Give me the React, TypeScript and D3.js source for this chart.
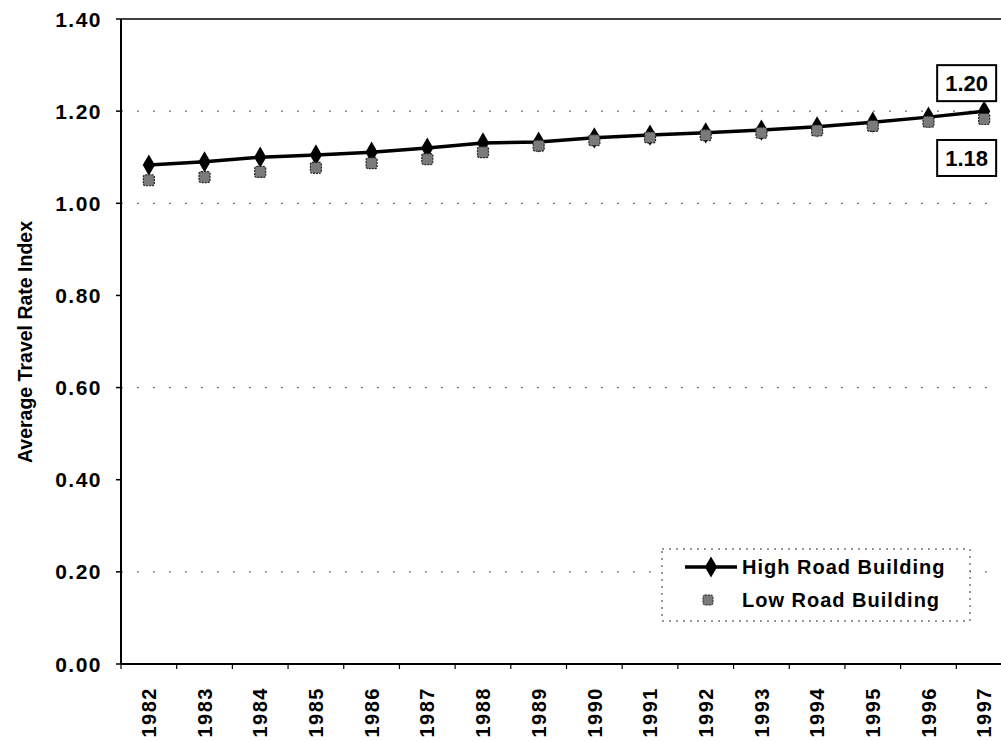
import React from "react";
import * as d3 from "d3";

const years = ["1982","1983","1984","1985","1986","1987","1988","1989","1990","1991","1992","1993","1994","1995","1996","1997"];
const highRoad = [1.083, 1.09, 1.10, 1.105, 1.111, 1.12, 1.131, 1.133, 1.142, 1.148, 1.153, 1.159, 1.166, 1.176, 1.187, 1.20];
const lowRoad = [1.05, 1.057, 1.068, 1.077, 1.087, 1.096, 1.111, 1.125, 1.137, 1.143, 1.148, 1.153, 1.158, 1.168, 1.177, 1.183];
const yTicks = [0, 0.2, 0.4, 0.6, 0.8, 1.0, 1.2, 1.4];
const gridValues = [0.2, 0.6, 1.0, 1.2];
const seriesNames = ["High Road Building", "Low Road Building"];
const endLabels = ["1.20", "1.18"];

const W = 1001, H = 741;
const M = { left: 121, top: 19, right: 1012, bottom: 664 };
const FONT = "'Liberation Sans', Arial, sans-serif";

export default function App() {
  const x = d3.scaleBand<string>().domain(years).range([M.left, M.right]);
  const y = d3.scaleLinear().domain([0, 1.4]).range([M.bottom, M.top]);
  const cx = (i: number) => (x(years[i]) as number) + x.bandwidth() / 2;

  const line = d3.line<number>().x((_, i) => cx(i)).y((d) => y(d));
  const diamond = d3.symbol().type(d3.symbolDiamond).size(130)();
  const last = years.length - 1;

  return (
    <svg width={W} height={H} style={{ position: "absolute", left: 0, top: 0, background: "#fff" }}>
      <rect x={0} y={0} width={W} height={H} fill="#fff" />
      {/* faint gridlines */}
      {gridValues.map((g) => (
        <line key={g} x1={M.left} x2={M.right} y1={y(g)} y2={y(g)} stroke="#777" strokeWidth={1.2} strokeDasharray="2 14" />
      ))}
      {/* frame */}
      <line x1={M.left} x2={M.right} y1={M.top} y2={M.top} stroke="#000" strokeWidth={1.5} />
      <line x1={M.left} x2={M.left} y1={M.top} y2={M.bottom} stroke="#000" strokeWidth={2} />
      <line x1={M.left} x2={M.right} y1={M.bottom} y2={M.bottom} stroke="#000" strokeWidth={2} />
      {/* y ticks */}
      {yTicks.map((t) => (
        <g key={t}>
          <line x1={M.left - 5} x2={M.left} y1={y(t)} y2={y(t)} stroke="#000" strokeWidth={1.5} />
          <text x={102} y={y(t)} dy="0.36em" textAnchor="end" fontFamily={FONT} fontWeight="bold" fontSize={21} letterSpacing={1.5} fill="#000">
            {t.toFixed(2)}
          </text>
        </g>
      ))}
      {/* x ticks */}
      {years.map((yr, i) => (
        <g key={yr}>
          <line x1={x(yr) as number} x2={x(yr) as number} y1={M.bottom} y2={M.bottom + 5} stroke="#000" strokeWidth={1.2} />
          <text transform={`translate(${cx(i)},${687}) rotate(-90)`} dy="0.36em" textAnchor="end" fontFamily={FONT} fontWeight="bold" fontSize={20} letterSpacing={1.5} fill="#000">
            {yr}
          </text>
        </g>
      ))}
      {/* y axis title */}
      <text transform={`translate(${25},${342}) rotate(-90)`} dy="0.36em" textAnchor="middle" fontFamily={FONT} fontWeight="bold" fontSize={19.5} fill="#000">
        Average Travel Rate Index
      </text>
      {/* high series */}
      <path d={line(highRoad) as string} fill="none" stroke="#000" strokeWidth={3.5} />
      {highRoad.map((v, i) => (
        <path key={i} d={diamond as string} transform={`translate(${cx(i)},${y(v)})`} fill="#000" />
      ))}
      {/* low series */}
      {lowRoad.map((v, i) => (
        <rect key={i} x={cx(i) - 5.5} y={y(v) - 5.5} width={11} height={11} rx={2} fill="#7a7a7a" stroke="#222" strokeWidth={1.2} strokeDasharray="2 1" />
      ))}
      {/* end labels */}
      <g>
        <rect x={cx(last) - 47} y={y(highRoad[last]) - 46} width={59} height={36} fill="#fff" stroke="#000" strokeWidth={2} />
        <text x={cx(last) - 17.5} y={y(highRoad[last]) - 28} dy="0.36em" textAnchor="middle" fontFamily={FONT} fontWeight="bold" fontSize={22} fill="#000">
          {endLabels[0]}
        </text>
        <rect x={cx(last) - 47} y={y(lowRoad[last]) + 21} width={59} height={36} fill="#fff" stroke="#000" strokeWidth={2} />
        <text x={cx(last) - 17.5} y={y(lowRoad[last]) + 39} dy="0.36em" textAnchor="middle" fontFamily={FONT} fontWeight="bold" fontSize={22} fill="#000">
          {endLabels[1]}
        </text>
      </g>
      {/* legend */}
      <g>
        <rect x={662} y={549} width={308} height={72} fill="#fff" stroke="#333" strokeWidth={1} strokeDasharray="2 5" />
        <line x1={685} x2={737} y1={567} y2={567} stroke="#000" strokeWidth={3.5} />
        <path d={diamond as string} transform={`translate(711,567)`} fill="#000" />
        <text x={742} y={567} dy="0.36em" fontFamily={FONT} fontWeight="bold" fontSize={20} letterSpacing={1} fill="#000">
          {seriesNames[0]}
        </text>
        <rect x={703} y={595} width={10} height={10} rx={2} fill="#7a7a7a" stroke="#222" strokeWidth={1} strokeDasharray="2 1" />
        <text x={742} y={600} dy="0.36em" fontFamily={FONT} fontWeight="bold" fontSize={20} letterSpacing={1} fill="#000">
          {seriesNames[1]}
        </text>
      </g>
    </svg>
  );
}
